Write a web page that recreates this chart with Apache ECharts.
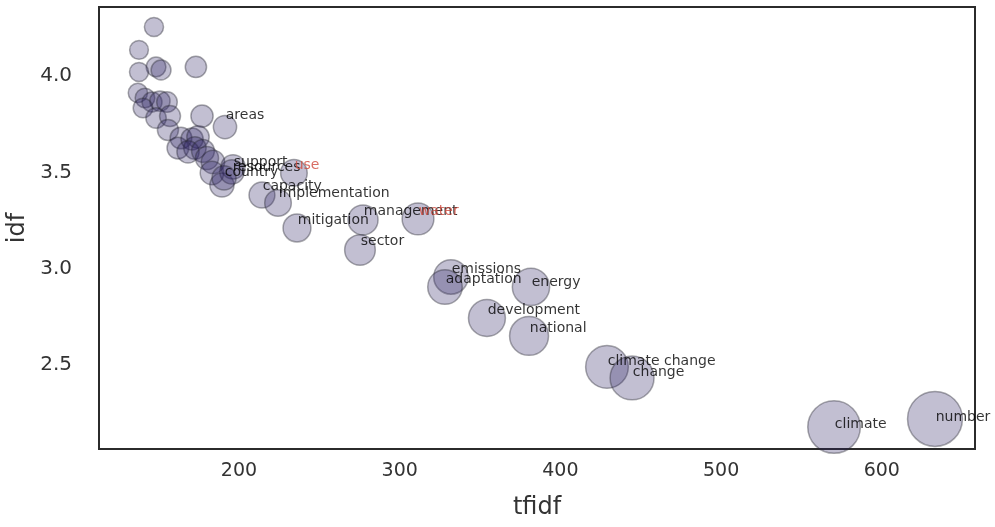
<!DOCTYPE html>
<html>
<head>
<meta charset="utf-8">
<script src="https://cdn.jsdelivr.net/npm/echarts@6/dist/echarts.min.js"></script>
<style>
html,body{margin:0;padding:0;background:#fff;}
#chart{width:995px;height:527px;}
</style>
</head>
<body>
<div id="chart"></div>
<script>
// ---- data ----
const words = ['', '', '', '', '', '', '', '', '', '', '', '', '', '', '', '', '', '', '', '', '', '', '', '', '', '', '',
  'support', 'resources', 'country', 'areas', 'use', 'capacity', 'implementation', 'mitigation',
  'management', 'water', 'sector', 'emissions', 'adaptation', 'energy', 'development', 'national',
  'climate change', 'change', 'climate', 'number'];
const tfidf = [147.1, 137.8, 148.4, 151.5, 137.8, 173.2, 137.1, 141.5, 145.9, 150.8, 155.2, 140.3, 148.4, 157.1,
  177.0, 155.8, 163.9, 162.0, 170.8, 174.5, 172.6, 168.3, 177.6, 180.1, 183.8, 183.2, 189.4,
  196.3, 195.6, 190.7, 191.3, 234.2, 214.3, 224.3, 236.1,
  277.2, 311.4, 275.3, 331.9, 328.2, 381.7, 354.3, 380.5,
  429.0, 444.6, 570.3, 633.1];
const idf = [4.254, 4.135, 4.047, 4.031, 4.021, 4.047, 3.912, 3.886, 3.865, 3.870, 3.865, 3.834, 3.782, 3.792,
  3.792, 3.720, 3.678, 3.626, 3.673, 3.683, 3.626, 3.606, 3.611, 3.574, 3.554, 3.497, 3.434,
  3.528, 3.502, 3.471, 3.735, 3.497, 3.382, 3.341, 3.211,
  3.253, 3.258, 3.097, 2.957, 2.905, 2.905, 2.744, 2.651,
  2.490, 2.433, 2.178, 2.220];
const highlighted = ['use', 'water'];
const xTicks = [200, 300, 400, 500, 600];
const yTicks = [2.5, 3.0, 3.5, 4.0];

// label nudges (pixels), style only
const labelNudge = {areas: -4, support: 3, resources: 3, country: 2, energy: 3, 'climate change': 2, change: 2,
  climate: 5, number: 6, implementation: -2, capacity: -1, management: -1, sector: -1};
const sizeOf = (x, y) => 3.25 * Math.sqrt(x / y);

// ---- chart ----
const points = words.map((w, i) => {
  const s = sizeOf(tfidf[i], idf[i]);
  return {
    name: w,
    value: [tfidf[i], idf[i]],
    label: {
      show: w !== '',
      color: highlighted.indexOf(w) >= 0 ? '#d0483c' : '#000',
      position: [s / 2 + 1.5, s / 2 + (labelNudge[w] || 0)]
    }
  };
});

const chart = echarts.init(document.getElementById('chart'), null, {renderer: 'canvas'});
chart.setOption({
  animation: false,
  backgroundColor: '#ffffff',
  grid: {left: 99, top: 7, width: 876, height: 442, outerBoundsMode: 'none', containLabel: false,
    show: true, borderColor: '#2b2b2b', borderWidth: 2, backgroundColor: 'transparent'},
  xAxis: {
    type: 'value', min: 112.9, max: 658,
    name: 'tfidf', nameLocation: 'middle', nameGap: 47,
    nameTextStyle: {fontFamily: 'DejaVu Sans', fontSize: 24, color: '#333'},
    axisLine: {show: false}, axisTick: {show: false}, splitLine: {show: false},
    axisLabel: {customValues: xTicks, fontFamily: 'DejaVu Sans', fontSize: 19, color: '#333', margin: 13}
  },
  yAxis: {
    type: 'value', min: 2.064, max: 4.358,
    name: 'idf', nameLocation: 'middle', nameGap: 63,
    nameTextStyle: {fontFamily: 'DejaVu Sans', fontSize: 24, color: '#333'},
    axisLine: {show: false}, axisTick: {show: false}, splitLine: {show: false},
    axisLabel: {customValues: yTicks, fontFamily: 'DejaVu Sans', fontSize: 20, color: '#333', margin: 27,
      formatter: v => v.toFixed(1)}
  },
  series: [{
    type: 'scatter',
    data: points,
    symbolSize: v => sizeOf(v[0], v[1]),
    itemStyle: {color: 'rgba(45,35,100,0.36)', borderColor: 'rgba(40,40,50,0.5)', borderWidth: 1.5},
    label: {
      align: 'left', verticalAlign: 'bottom',
      formatter: p => p.name, fontFamily: 'DejaVu Sans', fontSize: 14
    },
    labelLayout: {hideOverlap: false},
    emphasis: {disabled: true}
  }]
});
</script>
</body>
</html>
